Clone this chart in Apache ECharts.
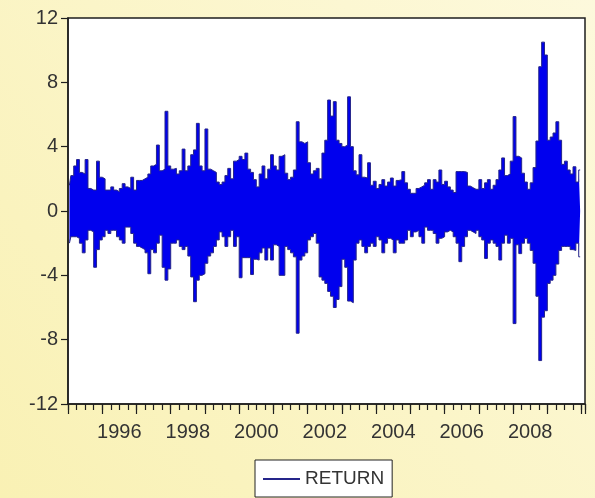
<!DOCTYPE html>
<html><head><meta charset="utf-8">
<script src="https://cdn.jsdelivr.net/npm/echarts/dist/echarts.min.js"></script>
<style>html,body{margin:0;padding:0;}#c{width:595px;height:498px;}</style>
</head><body><div id="c"></div>
<script>
// Daily RETURN series, summarised per month (max and min of the daily returns), Jan 1995 - Dec 2009
const startYear = 1995;
const seriesName = 'RETURN';
const yearLabels = ['1996','1998','2000','2002','2004','2006','2008'];
const yTicks = [-12, -8, -4, 0, 4, 8, 12];

const monthHigh = [
  1.6, 2.2, 2.8, 3.2, 2.4, 2.3, 3.2, 1.4, 1.3, 1.3, 3.1, 2.1,        // 1995
  2.0, 1.3, 1.3, 1.5, 1.3, 1.2, 1.4, 1.7, 1.5, 1.4, 2.1, 1.3,        // 1996
  1.9, 1.9, 2.0, 2.1, 2.3, 2.8, 2.9, 4.1, 2.5, 2.6, 6.2, 2.8,        // 1997
  2.6, 2.65, 2.3, 2.5, 3.85, 2.5, 2.8, 3.5, 3.8, 5.45, 2.8, 2.5,     // 1998
  5.1, 2.6, 2.5, 2.4, 1.8, 1.65, 1.8, 2.2, 2.65, 2.0, 3.1, 3.2,      // 1999
  3.4, 3.2, 3.6, 2.6, 2.4, 1.95, 1.5, 2.3, 2.8, 2.0, 2.6, 3.5,       // 2000
  2.8, 2.55, 3.4, 3.5, 2.35, 1.95, 2.1, 2.55, 5.55, 4.3, 4.2, 4.3,   // 2001
  3.0, 2.3, 2.5, 2.65, 2.0, 3.6, 4.4, 6.9, 5.9, 6.8, 4.4, 4.2,       // 2002
  4.0, 4.1, 7.1, 4.0, 2.5, 2.25, 3.5, 2.1, 2.05, 3.0, 1.6, 1.85,     // 2003
  1.4, 1.65, 1.95, 1.55, 1.8, 2.05, 1.55, 1.9, 1.95, 2.45, 1.75, 1.35, // 2004
  1.1, 1.1, 1.4, 1.5, 1.6, 1.75, 1.95, 1.35, 1.95, 1.8, 2.55, 1.65,  // 2005
  1.85, 1.5, 1.3, 1.15, 2.45, 2.45, 2.45, 2.4, 1.55, 1.45, 1.35, 1.35, // 2006
  1.95, 1.4, 1.75, 1.95, 1.35, 1.6, 1.95, 2.55, 3.3, 2.2, 2.3, 3.1,  // 2007
  5.87, 3.4, 3.3, 2.35, 1.8, 1.35, 1.75, 2.7, 4.35, 8.97, 10.5, 9.7, // 2008
  4.4, 4.6, 4.85, 5.55, 4.4, 2.9, 3.1, 2.55, 2.3, 2.75, 1.8, 2.55    // 2009
];
const monthLow = [
  -2.0, -1.6, -1.6, -1.7, -2.0, -2.6, -1.8, -1.2, -1.3, -3.5, -2.4, -1.8,   // 1995
  -1.6, -1.2, -1.4, -1.2, -1.2, -1.6, -1.8, -2.0, -1.0, -1.0, -1.4, -2.0,   // 1996
  -2.2, -2.3, -2.4, -2.6, -3.9, -2.4, -2.6, -2.0, -1.5, -3.5, -4.3, -3.6,   // 1997
  -2.0, -2.0, -1.8, -2.2, -2.4, -2.2, -2.8, -4.1, -5.64, -4.3, -4.0, -3.9,  // 1998
  -3.25, -2.8, -2.6, -2.2, -1.8, -1.3, -1.6, -2.2, -1.6, -1.2, -2.2, -1.6,  // 1999
  -4.15, -2.9, -2.9, -2.9, -3.95, -3.0, -3.05, -2.6, -2.3, -3.05, -2.3, -3.05, // 2000
  -2.1, -2.2, -4.0, -4.0, -2.2, -2.4, -2.6, -2.85, -7.6, -3.05, -2.8, -2.6, // 2001
  -1.8, -1.6, -1.4, -2.0, -4.1, -4.3, -4.5, -5.0, -5.3, -6.0, -5.5, -4.7,   // 2002
  -3.0, -3.5, -5.6, -5.7, -3.05, -2.0, -1.8, -2.2, -2.6, -2.2, -2.0, -2.2,  // 2003
  -1.6, -1.8, -2.6, -2.0, -1.7, -1.8, -2.6, -1.8, -2.0, -2.0, -1.8, -1.2,   // 2004
  -1.6, -1.3, -1.2, -1.6, -2.0, -1.0, -1.2, -1.2, -1.4, -2.0, -1.7, -1.6,   // 2005
  -1.3, -1.2, -1.3, -1.6, -2.0, -3.15, -2.2, -1.6, -1.2, -1.3, -1.4, -1.2,  // 2006
  -1.6, -1.8, -2.95, -2.0, -1.8, -2.0, -2.2, -3.05, -2.0, -1.5, -2.0, -1.7, // 2007
  -7.0, -2.1, -2.65, -2.0, -1.7, -2.0, -2.45, -3.25, -5.3, -9.3, -6.6, -6.2, // 2008
  -4.5, -4.3, -4.0, -3.3, -2.45, -2.2, -2.2, -2.2, -2.4, -2.45, -2.0, -2.85  // 2009
];

const monthX = monthHigh.map((_, i) => startYear + (i + 0.5) / 12);
const hiData = monthX.map((x, i) => [x, monthHigh[i]]);
const loData = monthX.map((x, i) => [x, monthLow[i]]);

const FONT = 'Liberation Sans, Arial, sans-serif';
const TXT = '#333333';
const AX = '#1e1e1e';
const LINE = '#25258a';
const FILL = '#0000ee';
const xMin = 1995, xMax = 2010.1;

const chart = echarts.init(document.getElementById('c'), null, {renderer: 'canvas'});
chart.setOption({
  animation: false,
  backgroundColor: new echarts.graphic.LinearGradient(0, 1, 1, 0, [
    {offset: 0, color: '#F9F1B4'},
    {offset: 1, color: '#FDF9DC'}
  ]),
  legend: {
    data: [{name: seriesName, icon: 'rect', itemStyle: {color: LINE}}],
    left: 255, top: 460,
    padding: [9, 8, 8, 8],
    itemWidth: 37, itemHeight: 2,
    backgroundColor: '#ffffff',
    borderColor: '#222222', borderWidth: 1, borderRadius: 0,
    textStyle: {fontFamily: FONT, fontSize: 19, color: TXT, lineHeight: 20}
  },
  grid: {
    left: 68, right: 10, top: 18, bottom: 94,
    show: true, backgroundColor: '#ffffff',
    borderColor: AX, borderWidth: 1.5,
    outerBoundsMode: 'none', containLabel: false
  },
  xAxis: [
    {
      type: 'value', position: 'bottom', min: xMin, max: xMax, interval: 1,
      axisLine: {show: true, onZero: false, lineStyle: {color: AX, width: 1.5}},
      axisTick: {show: true, inside: false, length: 10, lineStyle: {color: AX, width: 1.2}},
      axisLabel: {show: false}, splitLine: {show: false}
    },
    {
      type: 'value', position: 'bottom', min: xMin, max: xMax, interval: 0.25,
      axisLine: {show: false, onZero: false},
      axisTick: {show: true, inside: false, length: 6, lineStyle: {color: AX, width: 1.2}},
      axisLabel: {show: false}, splitLine: {show: false}
    },
    {
      type: 'value', position: 'bottom', min: xMin, max: xMax, interval: 0.5,
      axisLine: {show: false, onZero: false},
      axisTick: {show: false},
      splitLine: {show: false},
      axisLabel: {
        show: true, margin: 18,
        fontFamily: FONT, fontSize: 20, color: TXT,
        formatter: function (v) {
          const y = Math.round((v - 0.5) * 100) / 100;
          const s = String(y);
          return (Number.isInteger(y) && yearLabels.indexOf(s) >= 0) ? s : '';
        }
      }
    }
  ],
  yAxis: {
    type: 'value', min: yTicks[0], max: yTicks[yTicks.length - 1], interval: 4,
    axisLine: {show: true, onZero: false, lineStyle: {color: AX, width: 1.5}},
    axisTick: {show: true, inside: false, length: 7, lineStyle: {color: AX, width: 1.2}},
    axisLabel: {margin: 10, fontFamily: FONT, fontSize: 20, color: TXT},
    splitLine: {show: false}
  },
  series: [
    {
      name: seriesName, type: 'line', xAxisIndex: 0, step: 'middle',
      data: hiData, symbol: 'none', showSymbol: false,
      lineStyle: {color: LINE, width: 1},
      itemStyle: {color: LINE},
      areaStyle: {color: FILL, opacity: 1, origin: 0}
    },
    {
      name: seriesName, type: 'line', xAxisIndex: 0, step: 'middle',
      data: loData, symbol: 'none', showSymbol: false,
      lineStyle: {color: LINE, width: 1},
      itemStyle: {color: LINE},
      areaStyle: {color: FILL, opacity: 1, origin: 0}
    }
  ]
});
</script>
</body></html>
